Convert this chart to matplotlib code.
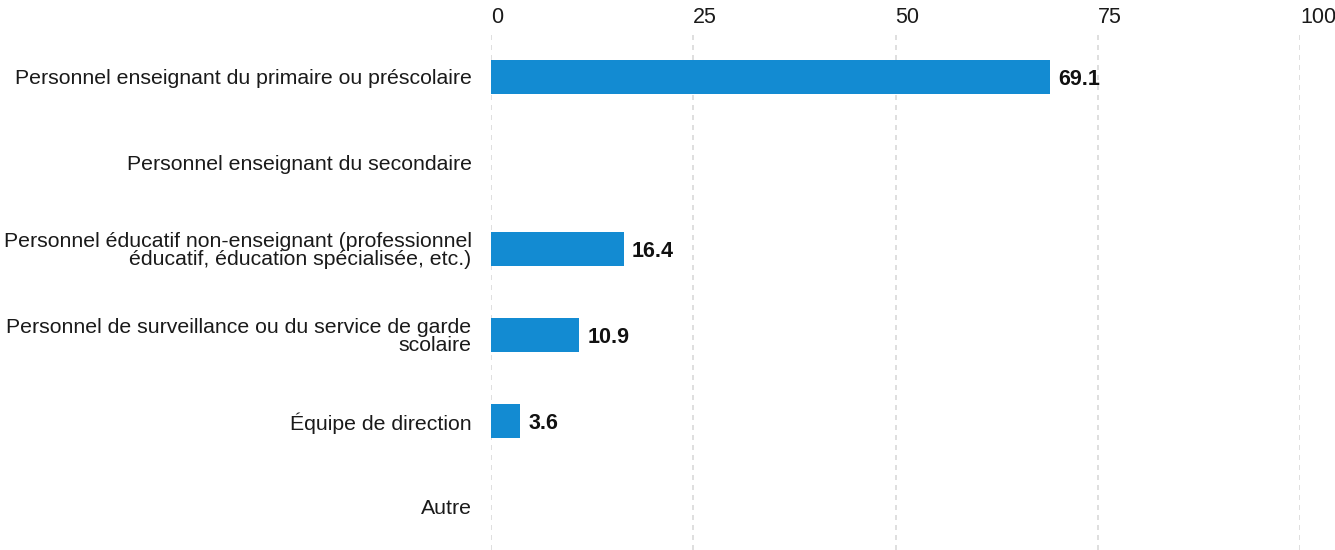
import matplotlib
matplotlib.use("Agg")
import matplotlib.pyplot as plt
import numpy as np

categories = [
    "Personnel enseignant du primaire ou préscolaire",
    "Personnel enseignant du secondaire",
    "Personnel éducatif non-enseignant (professionnel\néducatif, éducation spécialisée, etc.)",
    "Personnel de surveillance ou du service de garde\nscolaire",
    "Équipe de direction",
    "Autre",
]
values = [69.1, None, 16.4, 10.9, 3.6, None]
xticks = [0, 25, 50, 75, 100]

plt.rcParams['font.family'] = ['Liberation Sans', 'DejaVu Sans']
FS = 15.3

fig = plt.figure(figsize=(13.35, 5.5), dpi=100)
ax = fig.add_axes([491/1335, 0.0, (1300-491)/1335, 1 - 34/550])

y = np.arange(len(categories))
for yi, v in zip(y, values):
    if v is None:
        continue
    ax.barh(yi, v, height=0.4, color="#138BD2", zorder=3)
    ax.annotate(f"{v:.1f}", xy=(v, yi), xytext=(6, -1.5), textcoords="offset points",
                ha="left", va="center", fontsize=15.5, fontweight="bold", color="#111111")

ax.set_xlim(0, 100)
ax.set_ylim(len(categories) - 0.5, -0.5)
ax.set_yticks(y)
ax.set_yticklabels(categories, fontsize=FS, color="#1a1a1a", ha="right", linespacing=0.95)
ax.set_xticks(xticks)
ax.set_xticklabels([str(t) for t in xticks], fontsize=15.5, color="#1a1a1a", ha="left")
ax.xaxis.tick_top()
ax.tick_params(axis="both", length=0)
ax.tick_params(axis="y", pad=14)
ax.tick_params(axis="x", pad=4)
for s in ax.spines.values():
    s.set_visible(False)
ax.grid(axis="x", color="#d9d9d9", linestyle=(0, (3, 3)), linewidth=1.2, zorder=0)
ax.set_axisbelow(True)

fig.savefig("out.png", dpi=100)
